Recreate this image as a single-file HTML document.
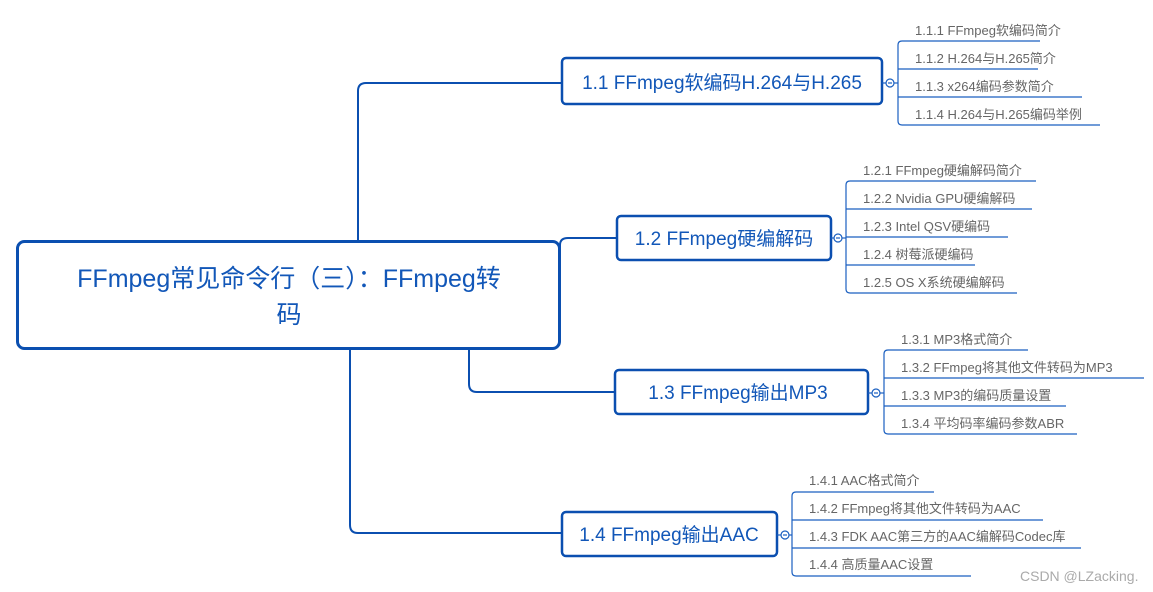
<!DOCTYPE html>
<html><head><meta charset="utf-8"><style>
html,body{margin:0;padding:0;background:#fff;}
svg{display:block;}
.b{fill:#fff;stroke:#0b4fb0;stroke-width:2.5;}
.l{fill:none;stroke:#0b4fb0;stroke-width:2;}
.t{fill:none;stroke:#1a5fc0;stroke-width:1.2;}
.bt{font-family:"Liberation Sans","Noto Sans CJK SC",sans-serif;fill:#1257b8;}
.ct{font-family:"Liberation Sans","Noto Sans CJK SC",sans-serif;fill:#666;font-size:13px;}
</style></head><body>
<svg width="1153" height="592" viewBox="0 0 1153 592" xmlns="http://www.w3.org/2000/svg">
<!-- main connectors -->
<path class="l" d="M358 241 V91 Q358 83 366 83 H562"/>
<path class="l" d="M560 250 V245 Q560 238 568 238 H617"/>
<path class="l" d="M469 349 V384 Q469 392 477 392 H615"/>
<path class="l" d="M350 349 V525 Q350 533 358 533 H562"/>
<!-- root -->
<rect class="b" x="17.5" y="241.5" width="542" height="107" rx="7" style="stroke-width:3"/>
<text class="bt" x="289" y="287" font-size="25" text-anchor="middle">FFmpeg常见命令行（三）：FFmpeg转</text>
<text class="bt" x="289" y="323" font-size="25" text-anchor="middle">码</text>
<!-- level 1 boxes -->
<rect class="b" x="562" y="58" width="320" height="46" rx="4"/>
<text class="bt" x="722" y="89" font-size="19" text-anchor="middle">1.1 FFmpeg软编码H.264与H.265</text>
<rect class="b" x="617" y="216" width="214" height="44" rx="4"/>
<text class="bt" x="724" y="245" font-size="19" text-anchor="middle">1.2 FFmpeg硬编解码</text>
<rect class="b" x="615" y="370" width="253" height="44" rx="4"/>
<text class="bt" x="738" y="399" font-size="19" text-anchor="middle">1.3 FFmpeg输出MP3</text>
<rect class="b" x="562" y="512" width="215" height="44" rx="4"/>
<text class="bt" x="669" y="541" font-size="19" text-anchor="middle">1.4 FFmpeg输出AAC</text>
<!-- collapse circles -->
<g class="t" style="stroke-width:1.2">
<line x1="882" y1="83" x2="886" y2="83"/><circle cx="890" cy="83" r="4"/><line x1="888" y1="83" x2="892" y2="83"/><line x1="894" y1="83" x2="898" y2="83"/>
<line x1="831" y1="238" x2="834" y2="238"/><circle cx="838" cy="238" r="4"/><line x1="836" y1="238" x2="840" y2="238"/><line x1="842" y1="238" x2="846" y2="238"/>
<line x1="868" y1="393" x2="872" y2="393"/><circle cx="876" cy="393" r="4"/><line x1="874" y1="393" x2="878" y2="393"/><line x1="880" y1="393" x2="884" y2="393"/>
<line x1="777" y1="535" x2="781" y2="535"/><circle cx="785" cy="535" r="4"/><line x1="783" y1="535" x2="787" y2="535"/><line x1="789" y1="535" x2="792" y2="535"/>
</g>
<!-- children 1.1 -->
<path class="t" d="M1040 41 H902 Q898 41 898 45 V121 Q898 125 902 125 H1100 M898 69 Q898 69 902 69 H1038 M898 97 H1082"/>
<text class="ct" x="915" y="35">1.1.1 FFmpeg软编码简介</text>
<text class="ct" x="915" y="63">1.1.2 H.264与H.265简介</text>
<text class="ct" x="915" y="91">1.1.3 x264编码参数简介</text>
<text class="ct" x="915" y="119">1.1.4 H.264与H.265编码举例</text>
<!-- children 1.2 -->
<path class="t" d="M1036 181 H850 Q846 181 846 185 V289 Q846 293 850 293 H1017 M846 209 H1032 M846 237 H1008 M846 265 H975"/>
<text class="ct" x="863" y="175">1.2.1 FFmpeg硬编解码简介</text>
<text class="ct" x="863" y="203">1.2.2 Nvidia GPU硬编解码</text>
<text class="ct" x="863" y="231">1.2.3 Intel QSV硬编码</text>
<text class="ct" x="863" y="259">1.2.4 树莓派硬编码</text>
<text class="ct" x="863" y="287">1.2.5 OS X系统硬编解码</text>
<!-- children 1.3 -->
<path class="t" d="M1028 350 H888 Q884 350 884 354 V430 Q884 434 888 434 H1077 M884 378 H1144 M884 406 H1066"/>
<text class="ct" x="901" y="344">1.3.1 MP3格式简介</text>
<text class="ct" x="901" y="372">1.3.2 FFmpeg将其他文件转码为MP3</text>
<text class="ct" x="901" y="400">1.3.3 MP3的编码质量设置</text>
<text class="ct" x="901" y="428">1.3.4 平均码率编码参数ABR</text>
<!-- children 1.4 -->
<path class="t" d="M934 492 H796 Q792 492 792 496 V572 Q792 576 796 576 H971 M792 520 H1043 M792 548 H1081"/>
<text class="ct" x="809" y="485">1.4.1 AAC格式简介</text>
<text class="ct" x="809" y="513">1.4.2 FFmpeg将其他文件转码为AAC</text>
<text class="ct" x="809" y="541">1.4.3 FDK AAC第三方的AAC编解码Codec库</text>
<text class="ct" x="809" y="569">1.4.4 高质量AAC设置</text>
<!-- watermark -->
<text x="1020" y="581" font-family="Liberation Sans,sans-serif" font-size="14" fill="#aaa">CSDN @LZacking.</text>
</svg>
</body></html>
